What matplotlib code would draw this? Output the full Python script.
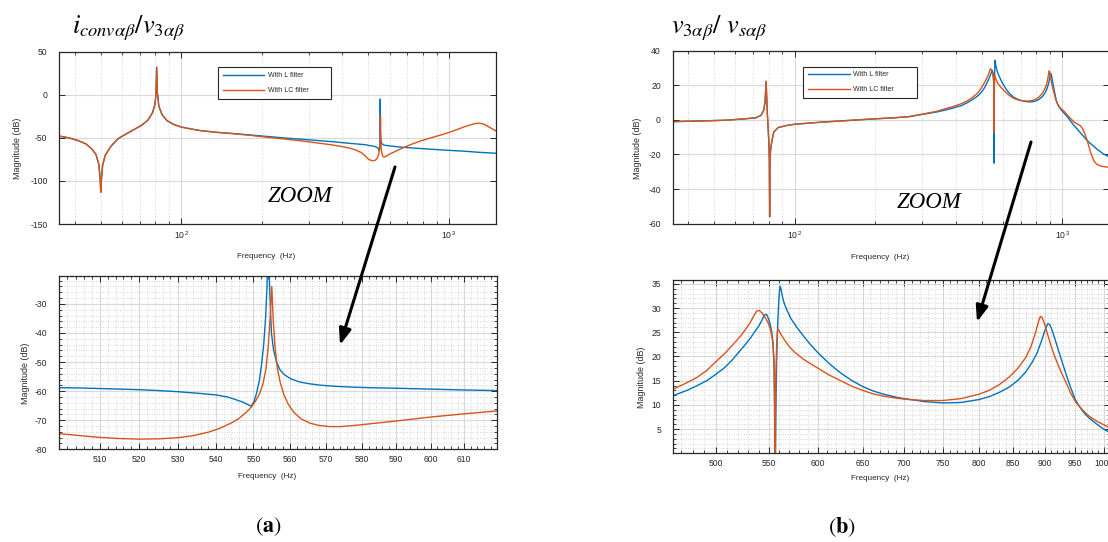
import numpy as np
import matplotlib.pyplot as plt
from matplotlib.ticker import (FixedLocator, LogLocator, MultipleLocator,
                               NullFormatter, FuncFormatter)

plt.rcParams['mathtext.fontset'] = 'stix'
plt.rcParams['font.family'] = ['Liberation Sans', 'DejaVu Sans']
plt.rcParams['axes.unicode_minus'] = False

BLUE = '#0072BD'
ORANGE = '#D95319'

# (a) i_conv / v_3 magnitude (dB), L filter
freq_a_l = [35, 38, 41, 44, 46.5, 48, 49.2, 49.8, 50.0, 50.3, 50.8, 52, 54.5, 58, 61,
            66, 71, 75, 78, 79.6, 80.4, 80.9, 81.4, 82.4, 84.7, 88.4, 93.6, 100, 110,
            118, 135, 157, 180, 208, 240, 277, 320, 368, 430, 490,
            500, 505, 510, 515, 520, 525, 530, 535, 540, 543, 545, 547, 548.5, 549.4,
            550.2, 550.9, 551.6, 552.2, 552.8, 553.3, 553.7, 554.0, 554.4, 554.9,
            555.5, 556.3, 557.3, 558.6, 560.3, 562.5, 565, 568, 572, 577, 582, 590,
            600, 610, 620, 652, 750, 867, 1000, 1154, 1300, 1500]
mag_a_l = [-48, -50, -53, -57, -63.5, -69.5, -81, -100, -113, -98, -82, -70, -60, -51,
           -47, -41, -35.5, -29.5, -21, -12, 0, 32, 2, -13, -23, -30, -34.4, -37.5, -40,
           -41.6, -43.5, -45, -46.6, -48.3, -50, -51.5, -53, -54.5, -56.5, -58,
           -58.8, -58.9, -59.1, -59.3, -59.5, -59.8, -60.2, -60.7, -61.3, -62.0, -62.8,
           -63.7, -64.6, -65.2, -63.5, -60.5, -56.5, -51, -44, -35, -24, -5, -24, -40,
           -46, -50, -52.8, -54.5, -55.8, -56.8, -57.4, -57.9, -58.3, -58.6, -58.8,
           -59.0, -59.3, -59.6, -59.8, -60.6, -62, -63.3, -64.5, -65.6, -66.8, -67.9]

# (a) i_conv / v_3 magnitude (dB), LC filter
freq_a_lc = [35, 38, 41, 44, 46.5, 48, 49.2, 49.8, 50.0, 50.3, 50.8, 52, 54.5, 58, 61,
             66, 71, 75, 78, 79.6, 80.4, 80.9, 81.4, 82.4, 84.7, 88.4, 93.6, 100, 110,
             118, 135, 157, 180, 208, 240, 277, 320, 368, 400, 427, 450, 470, 485, 495,
             500, 505, 510, 515, 520, 525, 530, 534, 538, 541, 544, 546, 548, 549.5,
             550.7, 551.7, 552.6, 553.4, 554.0, 554.5, 555.0, 555.4, 555.9, 556.5,
             557.3, 558.3, 559.5, 561, 563, 565.5, 568, 571, 574, 578, 585, 592, 600,
             610, 620, 650, 680, 720, 780, 867, 950, 1000, 1080, 1154, 1230, 1295,
             1350, 1407, 1450, 1500]
mag_a_lc = [-48, -50, -53, -57, -63.5, -69.5, -81, -100, -113, -98, -82, -70, -60, -51,
            -47, -41, -35.5, -29.5, -21, -12, 0, 32, 2, -13, -23, -30, -34.4, -37.5,
            -40, -41.6, -43.6, -45.3, -47, -49.2, -51.2, -53.3, -55.8, -58.3, -60.2,
            -62, -64.3, -67, -70.5, -73.3,
            -74.6, -75.3, -75.9, -76.3, -76.5, -76.4, -76.0, -75.3, -74.1, -72.8,
            -71.0, -69.5, -67.4, -65.4, -63.2, -60.8, -57.5, -52.5, -45, -36, -24, -36,
            -45, -52, -57, -61.2, -64.5, -67.2, -69.5, -71.0, -71.8, -72.2, -72.2,
            -71.8, -70.9, -70.0, -68.9, -67.8, -66.8, -63.8, -61, -57.8, -53.8, -49.5,
            -46, -43.8, -40, -36.7, -34, -32.8, -34, -37, -39.5, -42]

# (b) v_3 / v_s magnitude (dB), L filter
freq_b_l = [35, 45, 55, 65, 69, 71.5, 74.8, 76.6, 77.5, 78.2, 78.6, 79.0, 79.6, 80.0,
            80.4, 80.6, 80.8, 81.2, 81.8, 83.5, 86.8, 93.6, 100, 126, 160, 198, 235,
            268, 311, 340, 361, 390, 420, 445,
            463, 475, 483, 492, 500, 508, 515, 523, 528, 532, 536, 540, 543, 545.5,
            547.5, 549, 551, 552.5, 554, 555.0, 555.6, 556, 556.4, 556.9, 557.6, 558.5,
            559.5, 560.3, 561, 561.8, 563, 565, 568, 572, 578, 585, 592, 600, 612, 625,
            637, 650, 662, 675, 690, 700, 725, 750, 775, 800, 815, 830, 845, 858, 870,
            880, 888, 895, 900, 905, 908, 912, 916, 920, 927, 935, 942, 950, 958, 965,
            975, 988, 1000, 1012, 1050, 1100, 1170, 1240, 1350, 1420, 1500]
mag_b_l = [-1.0, -0.6, -0.2, 0.6, 1.0, 1.2, 2.6, 5.5, 10.5, 22.3, 13, 4, -5.3, -12,
           -23, -56, -25, -18, -14, -7, -4.4, -3.2, -2.5, -1.3, -0.3, 0.6, 1.2, 1.9,
           3.6, 4.6, 5.5, 6.8, 8.3, 10.2,
           11.9, 13.0, 13.9, 15.0, 16.3, 17.7, 19.3, 21.4, 22.7, 23.8, 25.1, 26.3,
           27.5, 28.6, 28.7, 28.0, 26.8, 25.2, 22.5, 17, 5, -25, 0, 12, 20, 26.5, 31,
           33.5, 34.5, 34, 32.6, 31, 29.5, 27.8, 26.0, 24.2, 22.5, 20.8, 18.6, 16.6,
           15.1, 13.8, 12.9, 12.2, 11.6, 11.3, 10.7, 10.4, 10.5, 11.1, 11.7, 12.6,
           13.7, 15.1, 16.8, 18.8, 20.8, 23.3, 25.3, 26.8, 26.6, 25.4, 23.8, 22.2,
           19.4, 16.3, 13.8, 11.2, 9.6, 8.4, 7.2, 6.0, 5.0, 4.2, 1.3, -2.8, -7.5, -12,
           -17, -19.5, -21.5]

# (b) v_3 / v_s magnitude (dB), LC filter
freq_b_lc = [35, 45, 55, 65, 69, 71.5, 74.8, 76.6, 77.5, 78.2, 78.6, 79.0, 79.6, 80.0,
             80.4, 80.6, 80.8, 81.2, 81.8, 83.5, 86.8, 93.6, 100, 126, 160, 198, 235,
             268, 311, 340, 361, 390, 420, 445,
             463, 475, 483, 492, 500, 508, 515, 523, 528, 532, 535, 538, 540.5, 543,
             546, 549, 551.5, 553.5, 554.8, 555.4, 555.8, 556.2, 556.8, 557.5, 558.3,
             558.8, 560, 562, 566, 570, 575, 585, 600, 612, 625, 637, 650, 662, 675,
             690, 700, 725, 750, 775, 800, 815, 830, 845, 858, 870, 878, 885, 890, 893,
             896, 900, 905, 910, 915, 920, 927, 935, 942, 950, 958, 965, 975, 988,
             1000, 1012, 1060, 1105, 1140, 1165, 1190, 1215, 1245, 1280, 1315, 1350,
             1400, 1472, 1500]
mag_b_lc = [-1.0, -0.6, -0.2, 0.6, 1.0, 1.2, 2.6, 5.5, 10.5, 22.3, 13, 4, -5.3, -12,
            -23, -56, -25, -18, -14, -7, -4.4, -3.2, -2.5, -1.3, -0.3, 0.6, 1.2, 1.9,
            3.8, 5.0, 6.2, 7.7, 9.4, 11.3,
            13.2, 14.6, 15.6, 17.1, 18.9, 20.6, 22.3, 24.3, 25.8, 27.1, 28.3, 29.4,
            29.5, 29.0, 28.1, 27.0, 25.5, 23.2, 19.5, 13, -7, 8, 17, 22.5, 25.2, 25.7,
            25.3, 24.5, 23.2, 22.1, 21.0, 19.4, 17.6, 16.2, 15.0, 13.9, 13.0, 12.3,
            11.8, 11.4, 11.2, 10.9, 10.9, 11.3, 12.2, 13.0, 14.2, 15.8, 17.6, 19.8,
            22.0, 24.8, 27.2, 28.3, 28.0, 26.6, 24.4, 22.3, 20.4, 18.8, 16.7, 14.6,
            12.6, 10.8, 9.6, 8.7, 7.6, 6.6, 5.9, 5.2, 1.8, -1.2, -2.4, -3.2, -5, -8,
            -13, -19.5, -24, -25.8, -26.8, -27.3, -27.5]

labels = ['With L filter', 'With LC filter']

W, H = 1108, 542
fig = plt.figure(figsize=(W / 100, H / 100), dpi=100)


def px_axes(x0, y0, x1, y1):
    return fig.add_axes([x0 / W, 1 - y1 / H, (x1 - x0) / W, (y1 - y0) / H])


def style(ax, minor_y=False):
    ax.set_axisbelow(True)
    for sp in ax.spines.values():
        sp.set_linewidth(0.9)
        sp.set_color('#262626')
    ax.tick_params(which='both', direction='in', top=True, right=True,
                   colors='#262626', labelsize=6.2)
    ax.tick_params(axis='y', pad=8.5)
    ax.tick_params(axis='x', pad=4)
    ax.tick_params(which='major', length=4, width=0.7)
    ax.tick_params(which='minor', length=2.2, width=0.6)
    ax.grid(True, which='major', color='#d9d9d9', lw=0.8)
    ax.grid(True, which='minor', axis='both' if minor_y else 'x',
            color='#b5b5b5', ls=(0, (1, 2.5)), lw=0.5)


def labels_at(ax, box, xl, yl):
    x0, y0, x1, y1 = box
    ax.set_xlabel('Frequency  (Hz)', fontsize=5.9, color='#262626')
    ax.set_ylabel('Magnitude (dB)', fontsize=6.4, color='#262626')
    ax.xaxis.set_label_coords((xl[0] - x0) / (x1 - x0), (y1 - xl[1]) / (y1 - y0))
    ax.yaxis.set_label_coords((yl[0] - x0) / (x1 - x0), (y1 - yl[1]) / (y1 - y0))
    ax.xaxis.label.set_va('center')
    ax.yaxis.label.set_va('center')


def add_legend(ax, x0, y0, x1, y1):
    leg = ax.legend(labels, loc='upper left', mode='expand',
                    bbox_to_anchor=(x0 / W, 1 - y1 / H, (x1 - x0) / W, (y1 - y0) / H),
                    bbox_transform=fig.transFigure, fontsize=5, handlelength=6.0,
                    handletextpad=0.5, borderpad=0.7, labelspacing=1.15,
                    borderaxespad=0, fancybox=False, framealpha=1,
                    edgecolor='#262626')
    leg.get_frame().set_linewidth(0.8)
    for t in leg.get_texts():
        t.set_color('#262626')


log_fmt = FuncFormatter(lambda v, p: r'$\mathdefault{10^{\,%d}}$' % round(np.log10(v)))
int_fmt = FuncFormatter(lambda v, p: '%d' % round(v))

# --- overview plots -------------------------------------------------------
box_at = (59.3, 51.7, 496, 224)
box_bt = (672.7, 50.7, 1109.4, 223.7)
for box, fl, ml, flc, mlc, ylim, ystep, xl, yl, lg in [
        (box_at, freq_a_l, mag_a_l, freq_a_lc, mag_a_lc, (-150, 50), 50,
         (266, 256), (17.8, 148), (217.7, 67.3, 331, 101.7)),
        (box_bt, freq_b_l, mag_b_l, freq_b_lc, mag_b_lc, (-60, 40), 20,
         (880, 258), (637.5, 148.5), (803.3, 66.5, 916.7, 101))]:
    ax = px_axes(*box)
    ax.semilogx(fl, ml, color=BLUE, lw=1.0)
    ax.semilogx(flc, mlc, color=ORANGE, lw=1.0)
    ax.set_xlim(35, 1500)
    ax.set_ylim(*ylim)
    ax.xaxis.set_major_locator(FixedLocator([100, 1000]))
    ax.xaxis.set_minor_locator(LogLocator(base=10, subs=np.arange(2, 10)))
    ax.xaxis.set_major_formatter(log_fmt)
    ax.xaxis.set_minor_formatter(NullFormatter())
    ax.yaxis.set_major_locator(MultipleLocator(ystep))
    style(ax)
    labels_at(ax, box, xl, yl)
    add_legend(ax, *lg)

# --- zoomed plots ---------------------------------------------------------
box_ab = (59.3, 275.7, 497.3, 449.3)
ax = px_axes(*box_ab)
ax.plot(freq_a_l, mag_a_l, color=BLUE, lw=1.0)
ax.plot(freq_a_lc, mag_a_lc, color=ORANGE, lw=1.0)
ax.set_xscale('log')
ax.set_xlim(500, 620)
ax.set_ylim(-80, -20.3)
ax.xaxis.set_major_locator(FixedLocator(list(range(510, 611, 10))))
ax.xaxis.set_minor_locator(FixedLocator(list(range(500, 621, 2))))
ax.xaxis.set_major_formatter(int_fmt)
ax.xaxis.set_minor_formatter(NullFormatter())
ax.yaxis.set_major_locator(FixedLocator(list(range(-80, -29, 10))))
ax.yaxis.set_minor_locator(MultipleLocator(2))
style(ax, minor_y=True)
labels_at(ax, box_ab, (266.7, 476), (25.8, 373))

box_bb = (672.7, 280, 1110.4, 453.3)
ax = px_axes(*box_bb)
ax.plot(freq_b_l, mag_b_l, color=BLUE, lw=1.0)
ax.plot(freq_b_lc, mag_b_lc, color=ORANGE, lw=1.0)
ax.set_xscale('log')
ax.set_xlim(463, 1012)
ax.set_ylim(0, 35.8)
ax.xaxis.set_major_locator(FixedLocator(list(range(500, 1001, 50))))
ax.xaxis.set_minor_locator(FixedLocator(list(range(470, 1011, 10))))
ax.xaxis.set_major_formatter(int_fmt)
ax.xaxis.set_minor_formatter(NullFormatter())
ax.yaxis.set_major_locator(FixedLocator(list(range(5, 36, 5))))
ax.yaxis.set_minor_locator(MultipleLocator(1))
style(ax, minor_y=True)
labels_at(ax, box_bb, (880, 479), (641, 377.5))

# --- titles, arrows and panel letters -------------------------------------
ov = fig.add_axes([0, 0, 1, 1], zorder=10)
ov.set_xlim(0, W)
ov.set_ylim(H, 0)
ov.axis('off')

ov.text(72, 33, r'$i_{conv\alpha\beta}/v_{3\alpha\beta}$', fontsize=19,
        va='baseline', ha='left')
ov.text(671, 33, r'$v_{3\alpha\beta}/\ v_{s\alpha\beta}$', fontsize=19,
        va='baseline', ha='left')

for x, y in [(300, 196), (929, 203)]:
    ov.text(x, y, 'ZOOM', fontsize=16.5, family='Liberation Serif', style='italic',
            ha='center', va='center')

arrow = dict(arrowstyle='-|>,head_length=0.8,head_width=0.3', lw=2.2,
             color='black', shrinkA=0, shrinkB=0, mutation_scale=12)
ov.annotate('', xy=(340, 345), xytext=(395, 167), arrowprops=arrow)
ov.annotate('', xy=(977, 322), xytext=(1031, 142), arrowprops=arrow)

ov.text(268, 527, r'$(\mathbf{a})$', fontsize=16, ha='center', va='center')
ov.text(842, 527, r'$(\mathbf{b})$', fontsize=16, ha='center', va='center')

fig.savefig('out.png', dpi=100)
